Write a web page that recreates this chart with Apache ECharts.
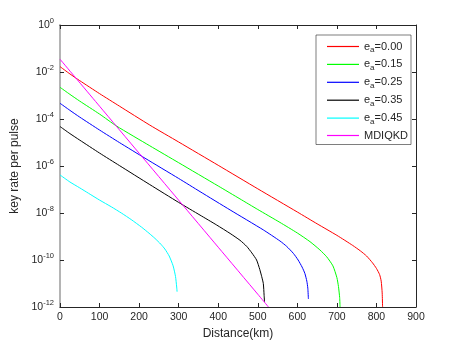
<!DOCTYPE html>
<html>
<head>
<meta charset="utf-8">
<script src="https://cdn.jsdelivr.net/npm/echarts@6/dist/echarts.min.js"></script>
<style>
  html, body { margin: 0; padding: 0; background: #fff; }
  #chart { width: 460px; height: 345px; }
</style>
</head>
<body>
<div id="chart"></div>
<script>
// distances (km) and key rates
const distRed = [0, 25, 50, 100, 150, 227, 300, 400, 500, 600, 650, 700, 740, 760, 775, 790, 800, 808, 812, 814.5, 815.5];
const rateRed = [1.70e-2, 8.3e-3, 4.27e-3, 1.20e-3, 3.55e-4, 5.5e-5, 1.05e-5, 1.07e-6, 1.07e-7, 1.10e-8, 3.47e-9, 1.12e-9, 4.17e-10, 2.40e-10, 1.48e-10, 7.59e-11, 4.37e-11, 2.40e-11, 1.26e-11, 3.98e-12, 1e-12];

const distGreen = [0, 25, 50, 100, 143, 227, 300, 400, 455, 500, 556, 600, 632, 657, 674, 690, 700, 704, 707, 708];
const rateGreen = [2.24e-3, 1.12e-3, 5.75e-4, 1.62e-4, 5.01e-5, 7.24e-6, 1.38e-6, 1.41e-7, 3.98e-8, 1.41e-8, 3.98e-9, 1.41e-9, 6.03e-10, 2.69e-10, 1.38e-10, 5.62e-11, 1.78e-11, 7.41e-12, 2.51e-12, 1e-12];

const distBlue = [0, 25, 50, 100, 150, 215, 300, 354, 430, 514, 556, 573, 590, 602, 612, 619, 624, 626.5, 628];
const rateBlue = [4.68e-4, 2.34e-4, 1.20e-4, 3.39e-5, 1e-5, 2.14e-6, 2.95e-7, 8.13e-8, 1.35e-8, 1.91e-9, 6.46e-10, 3.80e-10, 1.91e-10, 1e-10, 5.01e-11, 2.69e-11, 1.26e-11, 6.31e-12, 2.19e-12];

const distBlack = [0, 25, 50, 100, 150, 227, 300, 354, 396, 430, 455, 472, 485, 497, 505, 510, 514, 516, 517];
const rateBlack = [4.79e-5, 2.40e-5, 1.26e-5, 3.55e-6, 1.05e-6, 1.62e-7, 2.82e-8, 8.13e-9, 3.09e-9, 1.35e-9, 6.92e-10, 3.80e-10, 2.0e-10, 1e-10, 3.98e-11, 1.95e-11, 1e-11, 3.16e-12, 1.66e-12];

const distCyan = [0, 25, 50, 72, 100, 130, 156, 180, 206, 225, 240, 255, 265, 276, 286, 292, 295, 296];
const rateCyan = [4.17e-7, 2.09e-7, 1.17e-7, 6.92e-8, 3.55e-8, 1.82e-8, 9.77e-9, 5.25e-9, 2.51e-9, 1.38e-9, 8.32e-10, 4.68e-10, 2.95e-10, 1.48e-10, 5.62e-11, 2.0e-11, 7.08e-12, 4.47e-12];

const distMdi = [0, 100, 200, 300, 400, 500, 527];
const rateMdi = [3.5e-2, 3.5e-4, 3.5e-6, 3.5e-8, 3.5e-10, 3.5e-12, 1e-12];

const seriesNames = ['e{s|a}=0.00', 'e{s|a}=0.15', 'e{s|a}=0.25', 'e{s|a}=0.35', 'e{s|a}=0.45', 'MDIQKD'];
const seriesColors = ['#ff0000', '#00ff00', '#0000ff', '#000000', '#00ffff', '#ff00ff'];
const seriesDist = [distRed, distGreen, distBlue, distBlack, distCyan, distMdi];
const seriesRate = [rateRed, rateGreen, rateBlue, rateBlack, rateCyan, rateMdi];

const textColor = '#262626';
const fontFamily = 'Liberation Sans, Arial, sans-serif';

const chart = echarts.init(document.getElementById('chart'), null, { renderer: 'canvas' });

function zip(xs, ys) {
  return xs.map((x, i) => [x, ys[i]]);
}

function powerLabel(value) {
  const exp = Math.round(Math.log10(value));
  return '{b|10}{p|' + exp + '}';
}

const option = {
  animation: false,
  backgroundColor: '#ffffff',
  textStyle: { fontFamily: fontFamily, color: textColor },
  grid: { left: 60, right: 44, top: 25, bottom: 38, containLabel: false },
  legend: {
    orient: 'vertical',
    left: 316,
    top: 35,
    backgroundColor: '#ffffff',
    borderColor: textColor,
    borderWidth: 0.6,
    borderRadius: 0,
    padding: [4, 3, 2, 11],
    icon: 'rect',
    itemWidth: 32,
    itemHeight: 1.2,
    itemGap: 2.9,
    itemStyle: { borderWidth: 0 },
    data: seriesNames.map((name, i) => ({
      name: name,
      itemStyle: { color: seriesColors[i], borderWidth: 0 }
    })),
    textStyle: {
      fontFamily: fontFamily,
      color: textColor,
      fontSize: 11,
      lineHeight: 14,
      rich: {
        s: { fontSize: 8, lineHeight: 14, padding: [7, 0, 0, 0], fontFamily: fontFamily, color: textColor }
      }
    }
  },
  xAxis: [
    {
      type: 'value',
      min: 0,
      max: 900,
      interval: 100,
      name: 'Distance(km)',
      nameLocation: 'middle',
      nameGap: 16,
      nameTextStyle: { fontSize: 12, color: textColor, fontFamily: fontFamily },
      axisLine: { onZero: false, lineStyle: { color: textColor, width: 1 } },
      axisTick: { inside: true, length: 4, lineStyle: { color: textColor } },
      axisLabel: { fontSize: 10.5, color: textColor, margin: 5 },
      splitLine: { show: false }
    },
    {
      type: 'value',
      position: 'top',
      min: 0,
      max: 900,
      interval: 100,
      axisLine: { onZero: false, lineStyle: { color: textColor, width: 1 } },
      axisTick: { inside: true, length: 4, lineStyle: { color: textColor } },
      axisLabel: { show: false },
      splitLine: { show: false }
    }
  ],
  yAxis: [
    {
      type: 'log',
      logBase: 10,
      min: 1e-12,
      max: 1,
      interval: 2,
      name: 'key rate per pulse',
      nameLocation: 'middle',
      nameGap: 25,
      nameTextStyle: { fontSize: 12, color: textColor, fontFamily: fontFamily },
      axisLine: { onZero: false, lineStyle: { color: '#b4b4b4', width: 2 } },
      axisTick: { inside: true, length: 4, lineStyle: { color: textColor } },
      axisLabel: {
        color: textColor,
        margin: 6,
        formatter: powerLabel,
        rich: {
          b: { fontSize: 10.5, color: textColor, fontFamily: fontFamily },
          p: { fontSize: 7.5, padding: [0, 0, 8, 0], color: textColor, fontFamily: fontFamily }
        }
      },
      splitLine: { show: false }
    },
    {
      type: 'log',
      logBase: 10,
      position: 'right',
      min: 1e-12,
      max: 1,
      interval: 2,
      axisLine: { onZero: false, lineStyle: { color: textColor, width: 1 } },
      axisTick: { inside: true, length: 4, lineStyle: { color: textColor } },
      axisLabel: { show: false },
      splitLine: { show: false }
    }
  ],
  series: seriesNames.map((name, i) => ({
    name: name,
    type: 'line',
    xAxisIndex: 0,
    yAxisIndex: 0,
    data: zip(seriesDist[i], seriesRate[i]),
    showSymbol: false,
    symbol: 'none',
    smooth: 0.2,
    clip: true,
    lineStyle: { color: seriesColors[i], width: 1 },
    itemStyle: { color: seriesColors[i] },
    z: 3
  }))
};

chart.setOption(option);
</script>
</body>
</html>
